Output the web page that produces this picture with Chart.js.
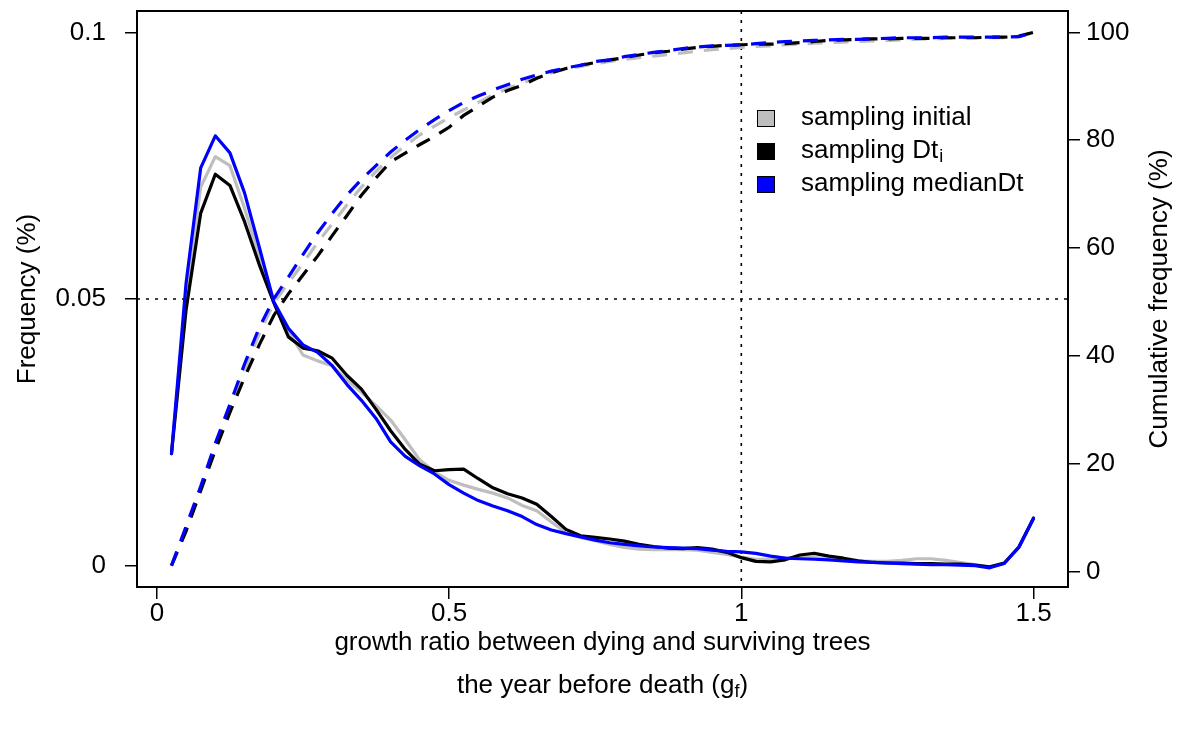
<!DOCTYPE html>
<html>
<head>
<meta charset="utf-8">
<script src="https://cdn.jsdelivr.net/npm/chart.js@4.4.0/dist/chart.umd.min.js"></script>
<style>
  html, body { margin: 0; padding: 0; background: #fff; }
</style>
</head>
<body>
<canvas id="chart" width="1179" height="729"></canvas>
<script>
// growth ratio classes (x)
const xs = [0.025, 0.05, 0.075, 0.1, 0.125, 0.15, 0.175, 0.2, 0.225, 0.25,
  0.275, 0.3, 0.325, 0.35, 0.375, 0.4, 0.425, 0.45, 0.475, 0.5,
  0.525, 0.55, 0.575, 0.6, 0.625, 0.65, 0.675, 0.7, 0.725, 0.75,
  0.775, 0.8, 0.825, 0.85, 0.875, 0.9, 0.925, 0.95, 0.975, 1,
  1.025, 1.05, 1.075, 1.1, 1.125, 1.15, 1.175, 1.2, 1.225, 1.25,
  1.275, 1.3, 1.325, 1.35, 1.375, 1.4, 1.425, 1.45, 1.475, 1.5];

// frequency (left axis)
const freqInitial = [0.021, 0.051, 0.071, 0.0767, 0.0750, 0.0670, 0.0580, 0.0495, 0.0440, 0.0395,
  0.0384, 0.0375, 0.0348, 0.0325, 0.0300, 0.0273, 0.0236, 0.0198, 0.0176, 0.0160,
  0.0151, 0.0143, 0.0136, 0.0127, 0.0113, 0.0103, 0.0082, 0.0062, 0.0053, 0.0047,
  0.0040, 0.0034, 0.0031, 0.0030, 0.0030, 0.0030, 0.0029, 0.0025, 0.0021, 0.0016,
  0.0012, 0.0012, 0.0014, 0.0015, 0.0015, 0.0013, 0.0011, 0.0009, 0.0008, 0.0008,
  0.0010, 0.0013, 0.0013, 0.0010, 0.0006, 0.0002, -0.0003, 0.0005, 0.0033, 0.0088];

const freqDti = [0.021, 0.048, 0.0661, 0.0734, 0.0713, 0.0645, 0.0565, 0.0493, 0.0429, 0.0408,
  0.0403, 0.0389, 0.0357, 0.0331, 0.0293, 0.0253, 0.0218, 0.0190, 0.0178, 0.0180,
  0.0181, 0.0163, 0.0146, 0.0135, 0.0127, 0.0115, 0.0092, 0.0068, 0.0056, 0.0053,
  0.0050, 0.0046, 0.0040, 0.0036, 0.0033, 0.0032, 0.0034, 0.0031, 0.0025, 0.0015,
  0.0008, 0.0007, 0.0011, 0.0020, 0.0023, 0.0018, 0.0014, 0.0009, 0.0006, 0.0005,
  0.0005, 0.0004, 0.0004, 0.0003, 0.0003, 0.0001, -0.0002, 0.0005, 0.0035, 0.0089];

const freqMedian = [0.021, 0.053, 0.0746, 0.0806, 0.0774, 0.0699, 0.0598, 0.0495, 0.0445, 0.0414,
  0.0400, 0.0375, 0.0340, 0.0310, 0.0276, 0.0232, 0.0205, 0.0187, 0.0172, 0.0152,
  0.0136, 0.0122, 0.0112, 0.0103, 0.0092, 0.0077, 0.0067, 0.0060, 0.0054, 0.0048,
  0.0043, 0.0040, 0.0037, 0.0035, 0.0034, 0.0033, 0.0032, 0.0029, 0.0027, 0.0026,
  0.0023, 0.0018, 0.0014, 0.0013, 0.0012, 0.0011, 0.0009, 0.0007, 0.0006, 0.0005,
  0.0004, 0.0003, 0.0002, 0.0002, 0.0001, 0.0000, -0.0004, 0.0004, 0.0035, 0.0089];

// cumulative frequency (right axis, %)
const cumInitial = [1.1, 8.0, 15.4, 23.0, 30.3, 37.4, 44.0, 49.8, 53.5, 57.2,
  61.0, 64.5, 68.0, 71.3, 74.2, 76.8, 79.0, 81.0, 82.6, 84.2,
  85.6, 87.0, 88.4, 89.6, 90.6, 91.6, 92.5, 93.2, 93.7, 94.2,
  94.6, 95.0, 95.3, 95.6, 95.9, 96.2, 96.5, 96.8, 97.0, 97.2,
  97.4, 97.5, 97.7, 97.8, 98.0, 98.1, 98.2, 98.3, 98.4, 98.5,
  98.6, 98.7, 98.8, 98.9, 99.0, 99.0, 99.0, 99.0, 99.2, 100];

const cumDti = [1.1, 7.5, 15.0, 22.5, 29.5, 36.0, 42.0, 47.5, 51.5, 55.0,
  58.5, 62.3, 66.0, 69.8, 73.0, 76.0, 77.6, 79.2, 80.7, 82.4,
  84.6, 86.3, 88.0, 89.2, 90.2, 91.5, 92.5, 93.3, 93.9, 94.4,
  94.9, 95.3, 95.8, 96.2, 96.5, 96.9, 97.2, 97.4, 97.6, 97.7,
  97.8, 97.8, 97.9, 98.1, 98.3, 98.5, 98.6, 98.7, 98.8, 98.8,
  98.9, 98.9, 98.9, 99.0, 99.0, 99.0, 99.1, 99.1, 99.3, 100];

const cumMedian = [1.1, 8.4, 15.8, 23.8, 31.0, 38.5, 45.2, 50.6, 54.6, 58.8,
  62.8, 66.4, 69.8, 72.7, 75.3, 77.8, 80.0, 82.0, 83.8, 85.5,
  87.0, 88.2, 89.3, 90.3, 91.3, 92.1, 92.8, 93.4, 93.9, 94.6,
  94.9, 95.5, 95.9, 96.3, 96.6, 97.0, 97.3, 97.5, 97.6, 97.7,
  97.9, 98.1, 98.3, 98.4, 98.5, 98.6, 98.7, 98.7, 98.8, 98.9,
  99.0, 99.0, 99.0, 99.1, 99.1, 99.1, 99.1, 99.1, 99.2, 100];

const xTicks = [0, 0.5, 1, 1.5];
const freqTicks = [0, 0.05, 0.1];
const cumTicks = [0, 20, 40, 60, 80, 100];
const refFreq = 0.05;
const refX = 1;

const seriesNames = ['sampling initial', 'sampling Dt', 'sampling medianDt'];
const GRAY = '#bebebe', BLACK = '#000000', BLUE = '#0000ff';
const colors = [GRAY, BLACK, BLUE];
const FONT = '"Liberation Sans", Arial, Helvetica, sans-serif';

function pts(vals) {
  return xs.map((x, i) => ({ x: x, y: vals[i] }));
}

function solid(i, vals) {
  return {
    label: seriesNames[i], data: pts(vals), yAxisID: 'y',
    borderColor: colors[i], borderWidth: 3.2, pointRadius: 0,
    borderJoinStyle: 'round', borderCapStyle: 'round', order: 2 - i
  };
}
function dashed(i, vals) {
  return {
    label: seriesNames[i] + ' cum', data: pts(vals), yAxisID: 'y2',
    borderColor: colors[i], borderWidth: 3.2, pointRadius: 0,
    borderDash: [15, 11], borderCapStyle: 'butt', order: 2 - i
  };
}

const axisGrid = { drawOnChartArea: false, drawTicks: true, tickLength: 12, color: '#000', lineWidth: 1.5 };
const tickFont = { family: FONT, size: 26 };

// keep Chart.js from reserving room for overflowing tick labels
function noPad(s) {
  s.paddingTop = 0; s.paddingBottom = 0; s.paddingLeft = 0; s.paddingRight = 0;
}

// frame, reference lines, legend and titles
const decor = {
  id: 'decor',
  beforeDatasetsDraw(chart) {
    const { ctx, chartArea: a, scales } = chart;
    ctx.save();
    ctx.strokeStyle = '#000';
    ctx.lineWidth = 1.6;
    ctx.setLineDash([3, 6]);
    const yr = scales.y.getPixelForValue(refFreq);
    ctx.beginPath(); ctx.moveTo(a.left, yr); ctx.lineTo(a.right, yr); ctx.stroke();
    const xr = scales.x.getPixelForValue(refX);
    ctx.beginPath(); ctx.moveTo(xr, a.top); ctx.lineTo(xr, a.bottom); ctx.stroke();
    ctx.restore();
  },
  afterDraw(chart) {
    const { ctx, chartArea: a } = chart;
    ctx.save();
    ctx.strokeStyle = '#000';
    ctx.lineWidth = 2;
    ctx.strokeRect(a.left, a.top, a.right - a.left, a.bottom - a.top);

    // legend
    ctx.textBaseline = 'middle';
    const rows = [118, 151, 184];
    rows.forEach((ry, i) => {
      ctx.fillStyle = colors[i];
      ctx.fillRect(757, ry - 8, 18, 17);
      ctx.lineWidth = 1;
      ctx.strokeStyle = '#000';
      ctx.strokeRect(757.5, ry - 7.5, 17, 16);
      ctx.fillStyle = '#000';
      ctx.font = '26px ' + FONT;
      ctx.fillText(seriesNames[i], 801, ry);
      if (i === 1) {
        const w = ctx.measureText(seriesNames[i]).width;
        ctx.font = '18px ' + FONT;
        ctx.fillText('i', 801 + w + 1, ry + 6);
      }
    });

    // axis titles
    ctx.fillStyle = '#000';
    ctx.font = '26px ' + FONT;
    ctx.textAlign = 'center';
    ctx.textBaseline = 'middle';
    const cy = (a.top + a.bottom) / 2;
    ctx.save();
    ctx.translate(28, cy); ctx.rotate(-Math.PI / 2);
    ctx.fillText('Frequency (%)', 0, 0);
    ctx.restore();
    ctx.save();
    ctx.translate(1160, cy); ctx.rotate(-Math.PI / 2);
    ctx.fillText('Cumulative frequency (%)', 0, 0);
    ctx.restore();

    const cx = (a.left + a.right) / 2;
    ctx.fillText('growth ratio between dying and surviving trees', cx, 643);
    // second line with subscript f
    const t1 = 'the year before death (g', t2 = ')';
    const w1 = ctx.measureText(t1).width, w2 = ctx.measureText(t2).width;
    ctx.font = '18px ' + FONT;
    const ws = ctx.measureText('f').width;
    const start = cx - (w1 + ws + w2) / 2;
    ctx.textAlign = 'left';
    ctx.font = '26px ' + FONT;
    ctx.fillText(t1, start, 686);
    ctx.font = '18px ' + FONT;
    ctx.fillText('f', start + w1, 692);
    ctx.font = '26px ' + FONT;
    ctx.fillText(t2, start + w1 + ws, 686);
    ctx.restore();
  }
};

new Chart(document.getElementById('chart'), {
  type: 'line',
  data: {
    datasets: [
      solid(0, freqInitial), solid(1, freqDti), solid(2, freqMedian),
      dashed(0, cumInitial), dashed(1, cumDti), dashed(2, cumMedian)
    ]
  },
  options: {
    responsive: false,
    devicePixelRatio: 1,
    animation: false,
    layout: { padding: { top: 11, left: 0, right: 0, bottom: 0 } },
    plugins: { legend: { display: false }, tooltip: { enabled: false } },
    scales: {
      x: {
        type: 'linear', min: -0.034, max: 1.559,
        afterBuildTicks: s => { s.ticks = xTicks.map(v => ({ value: v })); },
        afterFit: s => { s.height = 142; noPad(s); },
        grid: axisGrid, border: { display: false },
        ticks: { color: '#000', font: tickFont, padding: -1, maxRotation: 0, autoSkip: false, callback: v => String(v) }
      },
      y: {
        position: 'left', min: -0.004, max: 0.104,
        afterBuildTicks: s => { s.ticks = freqTicks.map(v => ({ value: v })); },
        afterFit: s => { s.width = 137; noPad(s); },
        grid: axisGrid, border: { display: false },
        ticks: { color: '#000', font: tickFont, padding: 19, autoSkip: false, callback: v => String(v) }
      },
      y2: {
        position: 'right', min: -2.86, max: 103.96,
        afterBuildTicks: s => { s.ticks = cumTicks.map(v => ({ value: v })); },
        afterFit: s => { s.width = 111; noPad(s); },
        grid: axisGrid, border: { display: false },
        ticks: { color: '#000', font: tickFont, padding: 6, autoSkip: false, callback: v => String(v) }
      }
    }
  },
  plugins: [decor]
});
</script>
</body>
</html>
